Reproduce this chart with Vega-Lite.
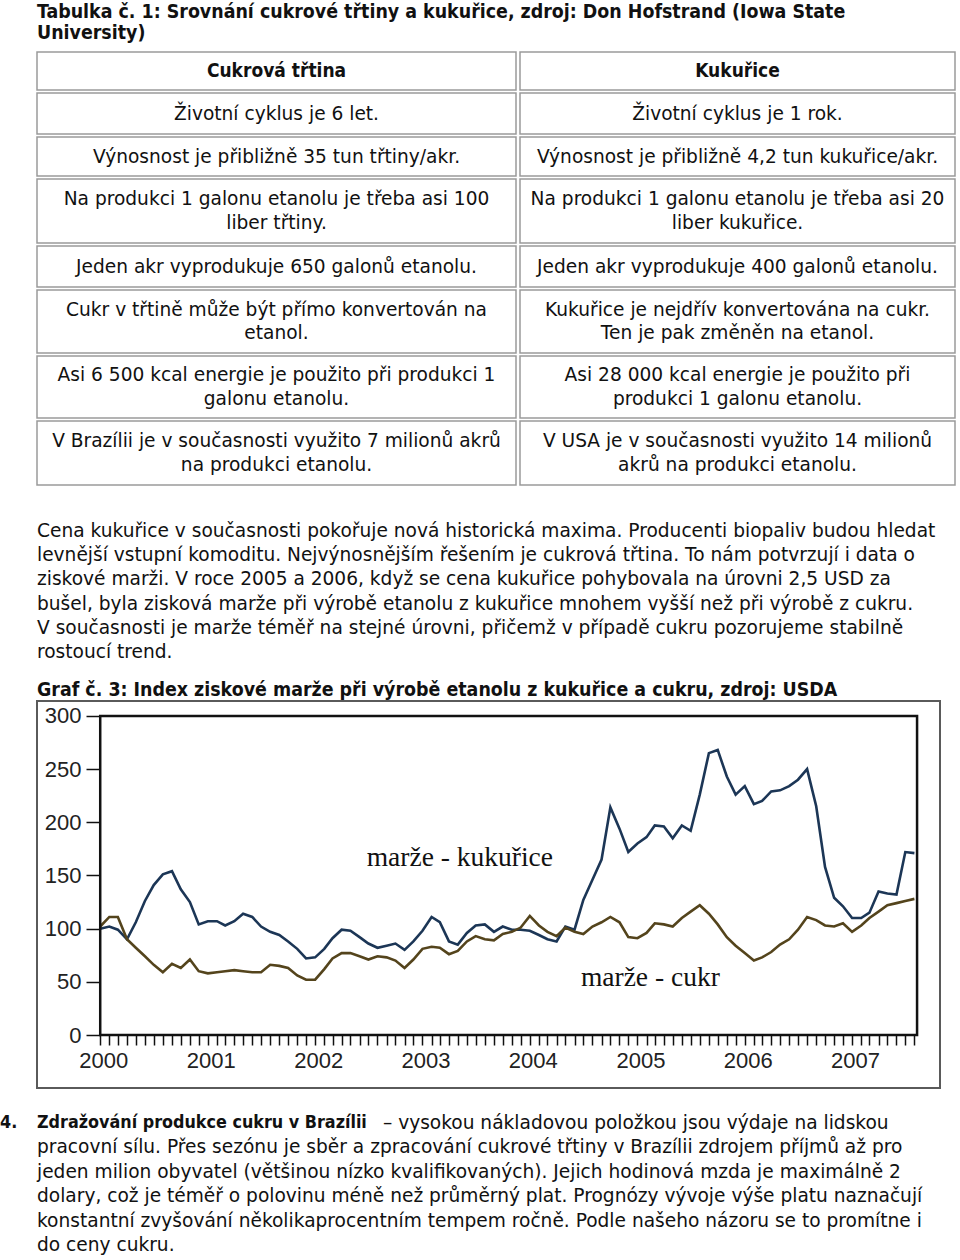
{
  "$schema": "https://vega.github.io/schema/vega-lite/v6.json",
  "padding": 0,
  "background": "white",
  "spacing": 0,
  "config": {
    "view": {"stroke": null},
    "text": {"font": "DejaVu Sans", "fontSize": 18.6, "color": "#111", "baseline": "middle", "align": "center", "lineBreak": "\n", "lineHeight": 23.5}
  },
  "datasets": {
    "table": [
      {"row": 0, "col": "L", "text": "Cukrová třtina"},
      {"row": 0, "col": "R", "text": "Kukuřice"},
      {"row": 1, "col": "L", "text": "Životní cyklus je 6 let."},
      {"row": 1, "col": "R", "text": "Životní cyklus je 1 rok."},
      {"row": 2, "col": "L", "text": "Výnosnost je přibližně 35 tun třtiny/akr."},
      {"row": 2, "col": "R", "text": "Výnosnost je přibližně 4,2 tun kukuřice/akr."},
      {"row": 3, "col": "L", "text": "Na produkci 1 galonu etanolu je třeba asi 100\nliber třtiny."},
      {"row": 3, "col": "R", "text": "Na produkci 1 galonu etanolu je třeba asi 20\nliber kukuřice."},
      {"row": 4, "col": "L", "text": "Jeden akr vyprodukuje 650 galonů etanolu."},
      {"row": 4, "col": "R", "text": "Jeden akr vyprodukuje 400 galonů etanolu."},
      {"row": 5, "col": "L", "text": "Cukr v třtině může být přímo konvertován na\netanol."},
      {"row": 5, "col": "R", "text": "Kukuřice je nejdřív konvertována na cukr.\nTen je pak změněn na etanol."},
      {"row": 6, "col": "L", "text": "Asi 6 500 kcal energie je použito při produkci 1\ngalonu etanolu."},
      {"row": 6, "col": "R", "text": "Asi 28 000 kcal energie je použito při\nprodukci 1 galonu etanolu."},
      {"row": 7, "col": "L", "text": "V Brazílii je v současnosti využito 7 milionů akrů\nna produkci etanolu."},
      {"row": 7, "col": "R", "text": "V USA je v současnosti využito 14 milionů\nakrů na produkci etanolu."}
    ],
    "heading": [
      {"line": 1, "text": "Tabulka č. 1: Srovnání cukrové třtiny a kukuřice, zdroj: Don Hofstrand (Iowa State"},
      {"line": 2, "text": "University)"}
    ],
    "para": [
      {"line": 1, "text": "Cena kukuřice v současnosti pokořuje nová historická maxima. Producenti biopaliv budou hledat"},
      {"line": 2, "text": "levnější vstupní komoditu. Nejvýnosnějším řešením je cukrová třtina. To nám potvrzují i data o"},
      {"line": 3, "text": "ziskové marži. V roce 2005 a 2006, když se cena kukuřice pohybovala na úrovni 2,5 USD za"},
      {"line": 4, "text": "bušel, byla zisková marže při výrobě etanolu z kukuřice mnohem vyšší než při výrobě z cukru."},
      {"line": 5, "text": "V současnosti je marže téměř na stejné úrovni, přičemž v případě cukru pozorujeme stabilně"},
      {"line": 6, "text": "rostoucí trend."}
    ],
    "para2": [
      {"line": 1, "role": "num", "text": "4."},
      {"line": 1, "role": "head", "text": "Zdražování produkce cukru v Brazílii"},
      {"line": 1, "role": "lead", "text": "– vysokou nákladovou položkou jsou výdaje na lidskou"},
      {"line": 2, "role": "body", "text": "pracovní sílu. Přes sezónu je sběr a zpracování cukrové třtiny v Brazílii zdrojem příjmů až pro"},
      {"line": 3, "role": "body", "text": "jeden milion obyvatel (většinou nízko kvalifikovaných). Jejich hodinová mzda je maximálně 2"},
      {"line": 4, "role": "body", "text": "dolary, což je téměř o polovinu méně než průměrný plat. Prognózy vývoje výše platu naznačují"},
      {"line": 5, "role": "body", "text": "konstantní zvyšování několikaprocentním tempem ročně. Podle našeho názoru se to promítne i"},
      {"line": 6, "role": "body", "text": "do ceny cukru."}
    ],
    "margin": [
      {"date": "2000-01-01", "kukurice": 100, "cukr": 102},
      {"date": "2000-02-01", "kukurice": 102, "cukr": 111},
      {"date": "2000-03-01", "kukurice": 99, "cukr": 111},
      {"date": "2000-04-01", "kukurice": 90, "cukr": 90},
      {"date": "2000-05-01", "kukurice": 106, "cukr": 82},
      {"date": "2000-06-01", "kukurice": 126, "cukr": 74},
      {"date": "2000-07-01", "kukurice": 141, "cukr": 66},
      {"date": "2000-08-01", "kukurice": 151, "cukr": 59},
      {"date": "2000-09-01", "kukurice": 154, "cukr": 67},
      {"date": "2000-10-01", "kukurice": 137, "cukr": 63},
      {"date": "2000-11-01", "kukurice": 125, "cukr": 71},
      {"date": "2000-12-01", "kukurice": 104, "cukr": 60},
      {"date": "2001-01-01", "kukurice": 107, "cukr": 58},
      {"date": "2001-02-01", "kukurice": 107, "cukr": 59},
      {"date": "2001-03-01", "kukurice": 103, "cukr": 60},
      {"date": "2001-04-01", "kukurice": 107, "cukr": 61},
      {"date": "2001-05-01", "kukurice": 114, "cukr": 60},
      {"date": "2001-06-01", "kukurice": 111, "cukr": 59},
      {"date": "2001-07-01", "kukurice": 102, "cukr": 59},
      {"date": "2001-08-01", "kukurice": 97, "cukr": 66},
      {"date": "2001-09-01", "kukurice": 94, "cukr": 65},
      {"date": "2001-10-01", "kukurice": 88, "cukr": 63},
      {"date": "2001-11-01", "kukurice": 81, "cukr": 56},
      {"date": "2001-12-01", "kukurice": 72, "cukr": 52},
      {"date": "2002-01-01", "kukurice": 73, "cukr": 52},
      {"date": "2002-02-01", "kukurice": 81, "cukr": 62},
      {"date": "2002-03-01", "kukurice": 91, "cukr": 72},
      {"date": "2002-04-01", "kukurice": 99, "cukr": 77},
      {"date": "2002-05-01", "kukurice": 98, "cukr": 77},
      {"date": "2002-06-01", "kukurice": 92, "cukr": 74},
      {"date": "2002-07-01", "kukurice": 86, "cukr": 71},
      {"date": "2002-08-01", "kukurice": 82, "cukr": 74},
      {"date": "2002-09-01", "kukurice": 84, "cukr": 73},
      {"date": "2002-10-01", "kukurice": 86, "cukr": 70},
      {"date": "2002-11-01", "kukurice": 80, "cukr": 63},
      {"date": "2002-12-01", "kukurice": 88, "cukr": 71},
      {"date": "2003-01-01", "kukurice": 98, "cukr": 81},
      {"date": "2003-02-01", "kukurice": 111, "cukr": 83},
      {"date": "2003-03-01", "kukurice": 106, "cukr": 82},
      {"date": "2003-04-01", "kukurice": 88, "cukr": 76},
      {"date": "2003-05-01", "kukurice": 85, "cukr": 79},
      {"date": "2003-06-01", "kukurice": 96, "cukr": 88},
      {"date": "2003-07-01", "kukurice": 103, "cukr": 93},
      {"date": "2003-08-01", "kukurice": 104, "cukr": 90},
      {"date": "2003-09-01", "kukurice": 97, "cukr": 89},
      {"date": "2003-10-01", "kukurice": 102, "cukr": 95},
      {"date": "2003-11-01", "kukurice": 99, "cukr": 97},
      {"date": "2003-12-01", "kukurice": 99, "cukr": 101},
      {"date": "2004-01-01", "kukurice": 98, "cukr": 112},
      {"date": "2004-02-01", "kukurice": 94, "cukr": 103},
      {"date": "2004-03-01", "kukurice": 90, "cukr": 97},
      {"date": "2004-04-01", "kukurice": 88, "cukr": 93},
      {"date": "2004-05-01", "kukurice": 102, "cukr": 101},
      {"date": "2004-06-01", "kukurice": 99, "cukr": 97},
      {"date": "2004-07-01", "kukurice": 127, "cukr": 95},
      {"date": "2004-08-01", "kukurice": 146, "cukr": 102},
      {"date": "2004-09-01", "kukurice": 165, "cukr": 106},
      {"date": "2004-10-01", "kukurice": 214, "cukr": 111},
      {"date": "2004-11-01", "kukurice": 194, "cukr": 106},
      {"date": "2004-12-01", "kukurice": 172, "cukr": 92},
      {"date": "2005-01-01", "kukurice": 180, "cukr": 91},
      {"date": "2005-02-01", "kukurice": 186, "cukr": 96},
      {"date": "2005-03-01", "kukurice": 197, "cukr": 105},
      {"date": "2005-04-01", "kukurice": 196, "cukr": 104},
      {"date": "2005-05-01", "kukurice": 185, "cukr": 102},
      {"date": "2005-06-01", "kukurice": 197, "cukr": 110},
      {"date": "2005-07-01", "kukurice": 192, "cukr": 116},
      {"date": "2005-08-01", "kukurice": 226, "cukr": 122},
      {"date": "2005-09-01", "kukurice": 265, "cukr": 114},
      {"date": "2005-10-01", "kukurice": 268, "cukr": 104},
      {"date": "2005-11-01", "kukurice": 243, "cukr": 92},
      {"date": "2005-12-01", "kukurice": 226, "cukr": 84},
      {"date": "2006-01-01", "kukurice": 234, "cukr": 77},
      {"date": "2006-02-01", "kukurice": 217, "cukr": 70},
      {"date": "2006-03-01", "kukurice": 220, "cukr": 73},
      {"date": "2006-04-01", "kukurice": 229, "cukr": 78},
      {"date": "2006-05-01", "kukurice": 230, "cukr": 85},
      {"date": "2006-06-01", "kukurice": 234, "cukr": 90},
      {"date": "2006-07-01", "kukurice": 240, "cukr": 99},
      {"date": "2006-08-01", "kukurice": 250, "cukr": 111},
      {"date": "2006-09-01", "kukurice": 215, "cukr": 108},
      {"date": "2006-10-01", "kukurice": 158, "cukr": 103},
      {"date": "2006-11-01", "kukurice": 129, "cukr": 102},
      {"date": "2006-12-01", "kukurice": 121, "cukr": 105},
      {"date": "2007-01-01", "kukurice": 110, "cukr": 97},
      {"date": "2007-02-01", "kukurice": 110, "cukr": 103},
      {"date": "2007-03-01", "kukurice": 115, "cukr": 110},
      {"date": "2007-04-01", "kukurice": 135, "cukr": 116},
      {"date": "2007-05-01", "kukurice": 133, "cukr": 122},
      {"date": "2007-06-01", "kukurice": 132, "cukr": 124},
      {"date": "2007-07-01", "kukurice": 172, "cukr": 126},
      {"date": "2007-08-01", "kukurice": 171, "cukr": 128}
    ]
  },
  "vconcat": [
    {
      "width": 920, "height": 51,
      "data": {"name": "heading"},
      "mark": {"type": "text", "align": "left", "fontWeight": "bold", "fontSize": 19.4, "font": "DejaVu Sans Condensed, DejaVu Sans"},
      "encoding": {
        "x": {"datum": 0, "type": "quantitative", "scale": {"domain": [0, 1], "nice": false, "zero": false}, "axis": null},
        "y": {"field": "line", "type": "quantitative", "scale": {"domain": [0.4286, 2.857], "reverse": true, "nice": false, "zero": false}, "axis": null},
        "text": {"field": "text"}
      }
    },
    {
      "spacing": 1,
      "vconcat": [
        {"spacing": 2, "hconcat": [
          {"width": 479, "height": 38, "view": {"stroke": "#9a9a9a", "strokeWidth": 1.5}, "data": {"name": "table"}, "transform": [{"filter": "datum.row == 0 && datum.col == 'L'"}], "mark": {"type": "text", "fontWeight": "bold", "font": "DejaVu Sans Condensed, DejaVu Sans", "fontSize": 19}, "encoding": {"text": {"field": "text"}}},
          {"width": 435, "height": 38, "view": {"stroke": "#9a9a9a", "strokeWidth": 1.5}, "data": {"name": "table"}, "transform": [{"filter": "datum.row == 0 && datum.col == 'R'"}], "mark": {"type": "text", "fontWeight": "bold", "font": "DejaVu Sans Condensed, DejaVu Sans", "fontSize": 19}, "encoding": {"text": {"field": "text"}}}
        ]},
        {"spacing": 2, "hconcat": [
          {"width": 479, "height": 41, "view": {"stroke": "#9a9a9a", "strokeWidth": 1.5}, "data": {"name": "table"}, "transform": [{"filter": "datum.row == 1 && datum.col == 'L'"}], "mark": {"type": "text"}, "encoding": {"text": {"field": "text"}}},
          {"width": 435, "height": 41, "view": {"stroke": "#9a9a9a", "strokeWidth": 1.5}, "data": {"name": "table"}, "transform": [{"filter": "datum.row == 1 && datum.col == 'R'"}], "mark": {"type": "text"}, "encoding": {"text": {"field": "text"}}}
        ]},
        {"spacing": 2, "hconcat": [
          {"width": 479, "height": 39, "view": {"stroke": "#9a9a9a", "strokeWidth": 1.5}, "data": {"name": "table"}, "transform": [{"filter": "datum.row == 2 && datum.col == 'L'"}], "mark": {"type": "text"}, "encoding": {"text": {"field": "text"}}},
          {"width": 435, "height": 39, "view": {"stroke": "#9a9a9a", "strokeWidth": 1.5}, "data": {"name": "table"}, "transform": [{"filter": "datum.row == 2 && datum.col == 'R'"}], "mark": {"type": "text"}, "encoding": {"text": {"field": "text"}}}
        ]},
        {"spacing": 2, "hconcat": [
          {"width": 479, "height": 64, "view": {"stroke": "#9a9a9a", "strokeWidth": 1.5}, "data": {"name": "table"}, "transform": [{"filter": "datum.row == 3 && datum.col == 'L'"}], "mark": {"type": "text", "dy": -11.75}, "encoding": {"text": {"field": "text"}}},
          {"width": 435, "height": 64, "view": {"stroke": "#9a9a9a", "strokeWidth": 1.5}, "data": {"name": "table"}, "transform": [{"filter": "datum.row == 3 && datum.col == 'R'"}], "mark": {"type": "text", "dy": -11.75}, "encoding": {"text": {"field": "text"}}}
        ]},
        {"spacing": 2, "hconcat": [
          {"width": 479, "height": 41, "view": {"stroke": "#9a9a9a", "strokeWidth": 1.5}, "data": {"name": "table"}, "transform": [{"filter": "datum.row == 4 && datum.col == 'L'"}], "mark": {"type": "text"}, "encoding": {"text": {"field": "text"}}},
          {"width": 435, "height": 41, "view": {"stroke": "#9a9a9a", "strokeWidth": 1.5}, "data": {"name": "table"}, "transform": [{"filter": "datum.row == 4 && datum.col == 'R'"}], "mark": {"type": "text"}, "encoding": {"text": {"field": "text"}}}
        ]},
        {"spacing": 2, "hconcat": [
          {"width": 479, "height": 63, "view": {"stroke": "#9a9a9a", "strokeWidth": 1.5}, "data": {"name": "table"}, "transform": [{"filter": "datum.row == 5 && datum.col == 'L'"}], "mark": {"type": "text", "dy": -11.75}, "encoding": {"text": {"field": "text"}}},
          {"width": 435, "height": 63, "view": {"stroke": "#9a9a9a", "strokeWidth": 1.5}, "data": {"name": "table"}, "transform": [{"filter": "datum.row == 5 && datum.col == 'R'"}], "mark": {"type": "text", "dy": -11.75}, "encoding": {"text": {"field": "text"}}}
        ]},
        {"spacing": 2, "hconcat": [
          {"width": 479, "height": 62, "view": {"stroke": "#9a9a9a", "strokeWidth": 1.5}, "data": {"name": "table"}, "transform": [{"filter": "datum.row == 6 && datum.col == 'L'"}], "mark": {"type": "text", "dy": -11.75}, "encoding": {"text": {"field": "text"}}},
          {"width": 435, "height": 62, "view": {"stroke": "#9a9a9a", "strokeWidth": 1.5}, "data": {"name": "table"}, "transform": [{"filter": "datum.row == 6 && datum.col == 'R'"}], "mark": {"type": "text", "dy": -11.75}, "encoding": {"text": {"field": "text"}}}
        ]},
        {"spacing": 2, "hconcat": [
          {"width": 479, "height": 64, "view": {"stroke": "#9a9a9a", "strokeWidth": 1.5}, "data": {"name": "table"}, "transform": [{"filter": "datum.row == 7 && datum.col == 'L'"}], "mark": {"type": "text", "dy": -11.75}, "encoding": {"text": {"field": "text"}}},
          {"width": 435, "height": 64, "view": {"stroke": "#9a9a9a", "strokeWidth": 1.5}, "data": {"name": "table"}, "transform": [{"filter": "datum.row == 7 && datum.col == 'R'"}], "mark": {"type": "text", "dy": -11.75}, "encoding": {"text": {"field": "text"}}}
        ]}
      ]
    },
    {
      "width": 920, "height": 214,
      "layer": [
        {
          "data": {"name": "para"},
          "mark": {"type": "text", "align": "left"},
          "encoding": {
            "x": {"datum": 0, "type": "quantitative", "scale": {"domain": [0, 1], "nice": false, "zero": false}, "axis": null},
            "y": {"field": "line", "type": "quantitative", "scale": {"domain": [-0.8595, 7.984], "reverse": true, "nice": false, "zero": false}, "axis": null},
            "text": {"field": "text"}
          }
        },
        {
          "data": {"values": [{}]},
          "mark": {"type": "text", "align": "left", "fontWeight": "bold", "fontSize": 19.4, "font": "DejaVu Sans Condensed, DejaVu Sans", "text": "Graf č. 3: Index ziskové marže při výrobě etanolu z kukuřice a cukru, zdroj: USDA"},
          "encoding": {
            "x": {"datum": 0, "type": "quantitative"},
            "y": {"datum": 7.57, "type": "quantitative"}
          }
        }
      ]
    },
    {
      "width": 903, "height": 387,
      "view": {"stroke": "#5a5a5a", "strokeWidth": 2},
      "layer": [
        {
          "data": {"name": "margin"},
          "transform": [{"fold": ["kukurice", "cukr"], "as": ["series", "value"]}],
          "mark": {"type": "line", "strokeWidth": 2.6},
          "encoding": {
            "x": {"field": "date", "type": "temporal",
              "scale": {"domain": [{"year": 1999, "month": 5, "date": 31}, {"year": 2007, "month": 10, "date": 27}], "nice": false},
              "axis": {"orient": "bottom", "offset": -53, "domain": false, "grid": false, "title": null,
                "tickCount": {"interval": "month", "step": 1}, "tickSize": 10, "tickWidth": 1.5, "tickColor": "#111",
                "tickOpacity": {"condition": {"test": "datum.value < datetime(2000,0,1) || datum.value > datetime(2007,7,20)", "value": 0}, "value": 1},
                "labelExpr": "month(datum.value) == 0 ? timeFormat(datum.value, '%Y') : ''",
                "labelOverlap": false, "labelFlush": false, "labelOffset": 3,
                "labelFont": "Liberation Sans", "labelFontSize": 22, "labelColor": "#222", "labelPadding": 5}},
            "y": {"field": "value", "type": "quantitative",
              "scale": {"domain": [-49.8, 314], "nice": false, "zero": false},
              "axis": {"orient": "left", "offset": -63, "domain": false, "grid": false, "title": null,
                "values": [0, 50, 100, 150, 200, 250, 300], "tickSize": 14, "tickWidth": 1.5, "tickColor": "#111",
                "labelFont": "Liberation Sans", "labelFontSize": 22, "labelColor": "#222", "labelPadding": 5}},
            "color": {"field": "series", "type": "nominal", "scale": {"domain": ["kukurice", "cukr"], "range": ["#1c3656", "#54441c"]}, "legend": null}
          }
        },
        {
          "data": {"values": [{}]},
          "mark": {"type": "rect", "filled": false, "color": "#111", "strokeWidth": 2.5},
          "encoding": {
            "x": {"datum": {"year": 2000, "month": 1, "date": 1}, "type": "temporal"},
            "x2": {"datum": {"year": 2007, "month": 8, "date": 10}},
            "y": {"datum": 0, "type": "quantitative"},
            "y2": {"datum": 300}
          }
        },
        {
          "data": {"values": [{}]},
          "mark": {"type": "text", "text": "marže - kukuřice", "font": "Liberation Serif", "fontSize": 27.5, "color": "#111"},
          "encoding": {
            "x": {"datum": {"year": 2003, "month": 5, "date": 8}, "type": "temporal"},
            "y": {"datum": 166.5, "type": "quantitative"}
          }
        },
        {
          "data": {"values": [{}]},
          "mark": {"type": "text", "text": "marže - cukr", "font": "Liberation Serif", "fontSize": 27.5, "color": "#111"},
          "encoding": {
            "x": {"datum": {"year": 2005, "month": 2, "date": 14}, "type": "temporal"},
            "y": {"datum": 53.6, "type": "quantitative"}
          }
        }
      ]
    },
    {
      "width": 920, "height": 171,
      "data": {"name": "para2"},
      "encoding": {
        "y": {"field": "line", "type": "quantitative", "scale": {"domain": [-0.393, 6.615], "reverse": true, "nice": false, "zero": false}, "axis": null},
        "text": {"field": "text"}
      },
      "layer": [
        {"transform": [{"filter": "datum.role == 'num'"}],
         "mark": {"type": "text", "align": "left", "fontWeight": "bold", "fontSize": 17.8, "font": "DejaVu Sans Condensed, DejaVu Sans"},
         "encoding": {"x": {"datum": -0.0402, "type": "quantitative", "scale": {"domain": [0, 1], "nice": false, "zero": false}, "axis": null}}},
        {"transform": [{"filter": "datum.role == 'head'"}],
         "mark": {"type": "text", "align": "left", "fontWeight": "bold", "fontSize": 17.8, "font": "DejaVu Sans Condensed, DejaVu Sans"},
         "encoding": {"x": {"datum": 0, "type": "quantitative"}}},
        {"transform": [{"filter": "datum.role == 'lead'"}],
         "mark": {"type": "text", "align": "left"},
         "encoding": {"x": {"datum": 0.376, "type": "quantitative"}}},
        {"transform": [{"filter": "datum.role == 'body'"}],
         "mark": {"type": "text", "align": "left"},
         "encoding": {"x": {"datum": 0, "type": "quantitative"}}}
      ]
    }
  ]
}
